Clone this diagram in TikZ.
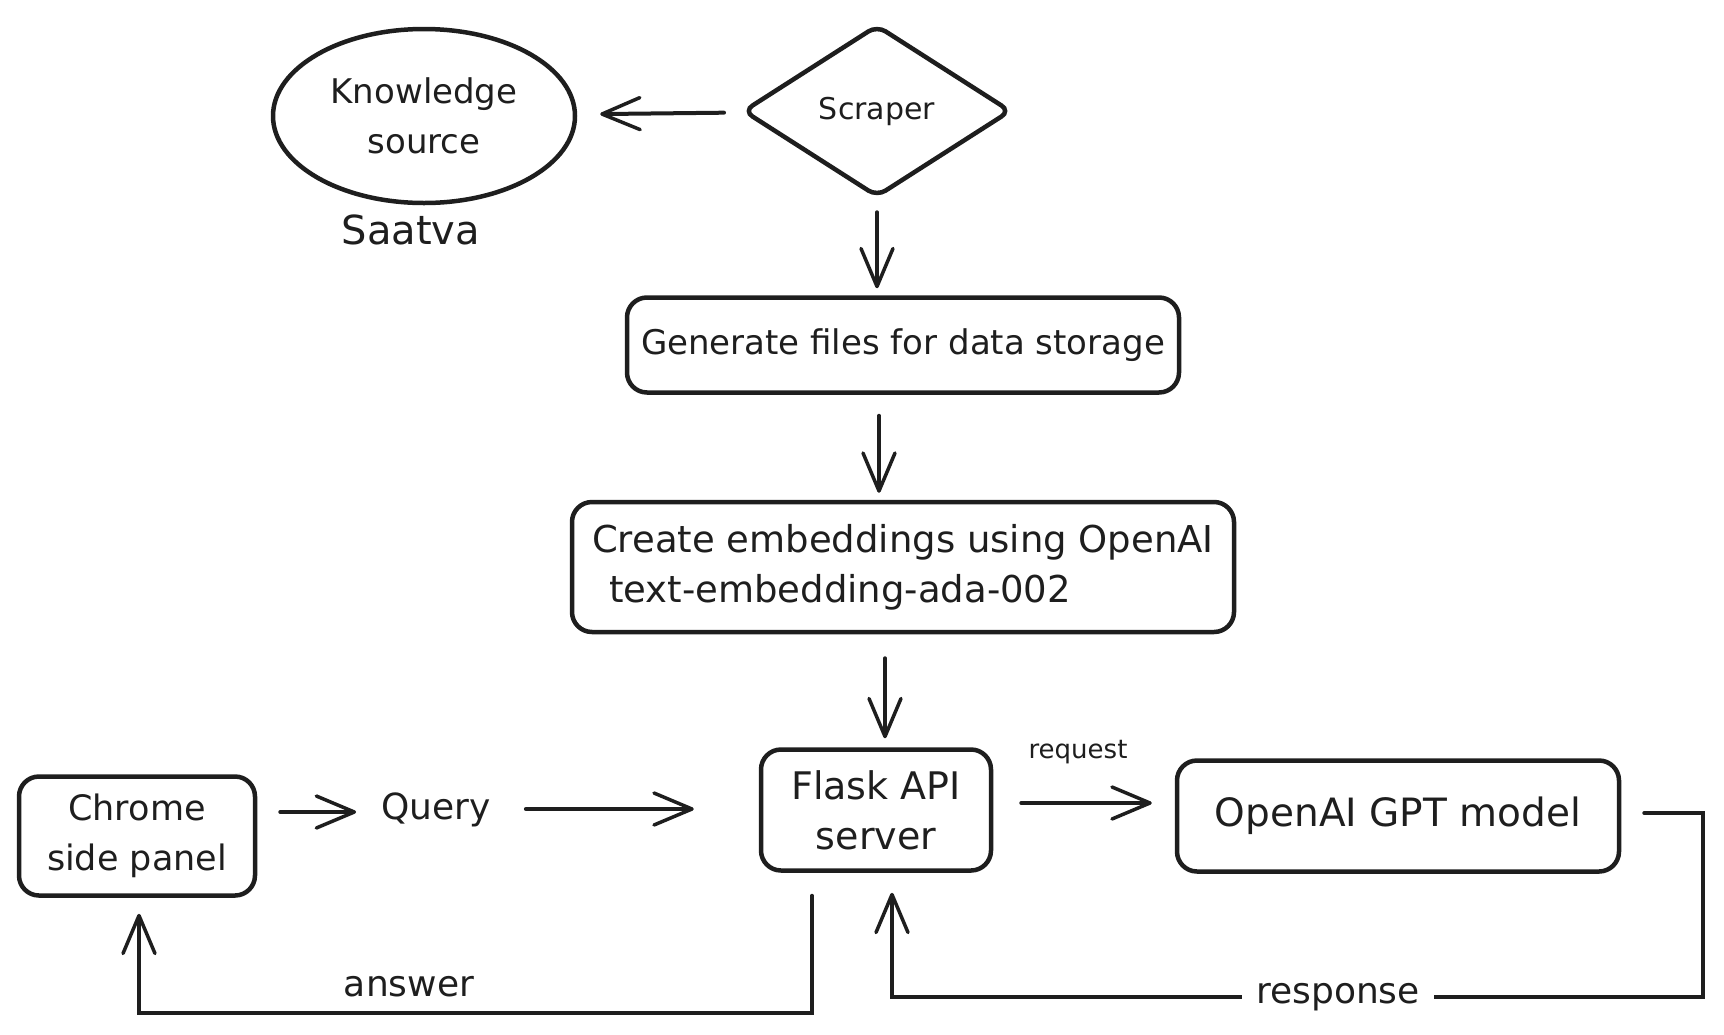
\documentclass[tikz,border=0pt]{standalone}
\usepackage{fontspec}
\setmainfont{DejaVu Sans}
\usetikzlibrary{arrows.meta,shapes.geometric}
\definecolor{ink}{HTML}{1E1E1E}

\begin{document}
\begin{tikzpicture}[x=1pt,y=-1pt,color=ink,
    txt/.style={font=\fontsize{#1}{50}\selectfont,align=center,inner sep=0pt},
    box/.style={draw,line width=4.5pt,rounded corners=20pt,inner sep=0pt},
    flow/.style={line width=4pt,line cap=round,
      -{Straight Barb[length=38pt,width=32pt,line width=3.5pt,round]}}]
  \useasboundingbox (0,0) rectangle (1724,1034);
  \draw
    (424,116) node[ellipse,draw,line width=4.5pt,minimum width=302pt,minimum height=174pt,txt=34] (know) {Knowledge\\source}
    (411,230) node[txt=40] (saatva) {Saatva}
    (877,111) node[diamond,draw,line width=4.5pt,rounded corners=10pt,minimum width=268pt,minimum height=172pt,txt=30] (scraper) {Scraper}
    (903,345) node[box,minimum width=552pt,minimum height=95pt,txt=34] (gen) {Generate files for data storage}
    (903,567) node[box,minimum width=662pt,minimum height=130pt,txt=37,align=left] (embed) {Create embeddings using OpenAI\\\hspace{17pt}text-embedding-ada-002}
    (876,810) node[box,minimum width=230pt,minimum height=121pt,txt=38] (flask) {Flask API\\server}
    (137,836) node[box,minimum width=236pt,minimum height=119pt,txt=35] (chrome) {Chrome\\side panel}
    (436,810) node[txt=36] (query) {Query}
    (1398,816) node[box,minimum width=442pt,minimum height=111pt,txt=39] (gpt) {OpenAI GPT model}
    (1078,752) node[txt=26] (request) {request}
    (409,987) node[txt=36] (answer) {answer};
  \coordinate (r1) at (1703,813);
  \coordinate (r2) at (1703,997);
  \coordinate (r3) at (892,997);
  \coordinate (a1) at (812,1013);
  \coordinate (a2) at (139,1013);
  \begin{scope}[flow]
    \draw[shorten <=19pt,shorten >=23pt] (scraper) -- (know);
    \draw[shorten <=13pt,shorten >=7pt] (scraper.south) -- (scraper.south |- gen.north);
    \draw[shorten <=21pt,shorten >=7pt] (gen.south -| 879,0) -- (embed.north -| 879,0);
    \draw[shorten <=24pt,shorten >=9pt] (embed.south -| 885,0) -- (flask.north -| 885,0);
    \draw[shorten <=23pt,shorten >=25pt] (chrome.east |- 0,812) -- (query.west |- 0,812);
    \draw[shorten <=35pt,shorten >=65pt] (query.east |- 0,809) -- (flask.west |- 0,809);
    \draw[shorten <=28pt,shorten >=23pt] (flask.east |- 0,803) -- (gpt.west |- 0,803);
    \draw[shorten <=23pt,shorten >=20pt] (gpt.east |- r1) -- (r1) -- (r2)
      -- node[pos=0.45,txt=36,fill=white,inner xsep=14pt,inner ysep=4pt] (response) {response} (r3)
      -- (r3 |- flask.south);
    \draw[shorten <=23pt,shorten >=16pt] (a1 |- flask.south) -- (a1) -- (a2) -- (a2 |- chrome.south);
  \end{scope}
\end{tikzpicture}
\end{document}
